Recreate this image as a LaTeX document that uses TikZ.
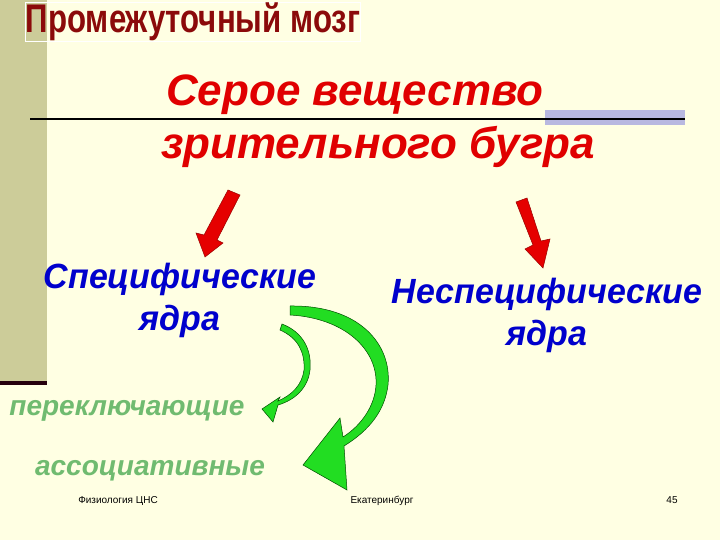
\documentclass[tikz,border=0pt]{standalone}
\usepackage{fontspec}
\setmainfont{Liberation Sans}
\definecolor{bg}{HTML}{FFFFE3}
\definecolor{bar}{HTML}{CCCC99}
\definecolor{titred}{HTML}{8B0A0A}
\definecolor{hred}{HTML}{E00000}
\definecolor{hblue}{HTML}{0000CC}
\definecolor{hgreen}{HTML}{70BB70}
\definecolor{agreen}{HTML}{22DD22}
\tikzset{
  head/.style={font=\fontsize{44}{46}\selectfont\bfseries\itshape, text=hred, inner sep=0pt},
  blu/.style={font=\fontsize{35}{42}\selectfont\bfseries\itshape, text=hblue, inner sep=0pt, align=center, xscale=0.97},
  grn/.style={font=\fontsize{28}{30}\selectfont\bfseries\itshape, text=hgreen, inner sep=0pt},
  foot/.style={font=\fontsize{10}{11}\selectfont, inner sep=0pt},
  redarrow/.style={fill=red!90!black, draw=red!60!black, line width=0.5pt},
  grarrow/.style={fill=agreen, draw=black!70!green, line width=0.5pt}
}
\begin{document}
\begin{tikzpicture}[x=1pt,y=-1pt]
\fill[bg] (0,0) rectangle (720,540);
\useasboundingbox (0,0) rectangle (720,540);
\fill[bar] (0,0) rectangle (47,381);
\fill[black!80!purple] (0,381) rectangle (47,385);
\fill[gray!60!blue!40] (545,110) rectangle (685,125);
\draw[line width=1.5pt] (30,119) -- (685,119);
\node[inner sep=0pt, font=\fontsize{40}{42}\selectfont\bfseries, text=titred, xscale=0.78, draw=white, line width=0pt] (title) at (193,22) {Промежуточный мозг};
\node[head] (h1) at (355,95) {Серое вещество};
\node[head] (h2) at (378,147) {зрительного бугра};
\node[blu] (spec) at (180,300) {Специфические\\ядра};
\node[blu] (nspec) at (547,315) {Неспецифические\\ядра};
\node[grn] (sw) at (127,411) {переключающие};
\node[grn] (as) at (150,471) {ассоциативные};
\node[foot] (f1) at (118,501) {Физиология ЦНС};
\node[foot] (f2) at (382,501) {Екатеринбург};
\node[foot] (f3) at (672,500) {45};
% red arrows
\draw[redarrow] (228,190) -- (240,195) -- (217,240) -- (223,243) -- (205,257) -- (196,233) -- (204,235) -- cycle;
\draw[redarrow] (516,202) -- (527,198) -- (541,241) -- (550,239) -- (543,268) -- (525,249) -- (533,245) -- cycle;
% big green curved arrow
\draw[grarrow] (290,306) .. controls (360,305) and (392,345) .. (388,385)
  .. controls (385,410) and (370,430) .. (344,446)
  -- (347,490) -- (303,465) -- (340,418) -- (343,437)
  .. controls (362,425) and (375,405) .. (376,385)
  .. controls (378,350) and (345,318) .. (290,315) -- cycle;
% small green curved arrow
\draw[grarrow] (282,324) .. controls (303,332) and (312,350) .. (310,370)
  .. controls (308,388) and (295,400) .. (278,405)
  -- (273,422) -- (262,409) -- (280,397) -- (278,401)
  .. controls (292,395) and (302,385) .. (304,370)
  .. controls (305,352) and (298,338) .. (280,330) -- cycle;
\end{tikzpicture}
\end{document}
